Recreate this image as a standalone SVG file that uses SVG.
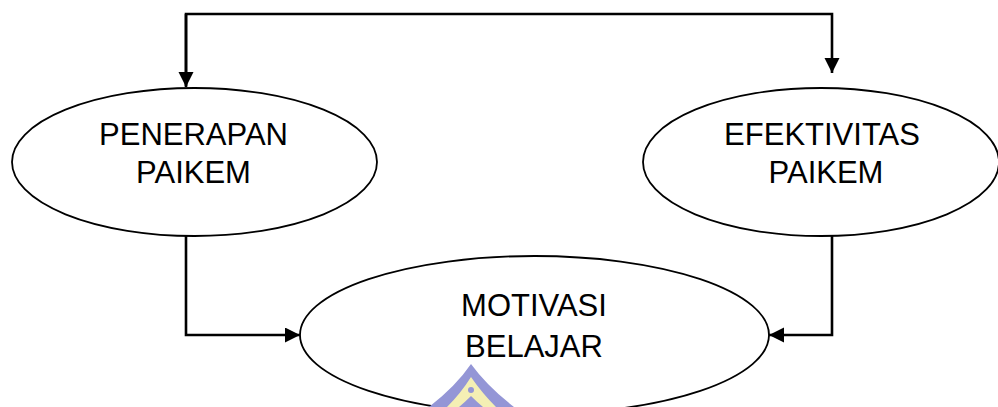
<svg xmlns="http://www.w3.org/2000/svg" width="998" height="407" viewBox="0 0 998 407">
  <style>
    .node ellipse { fill: #ffffff; stroke: #000000; stroke-width: 1.8; }
    .node text { font-family: "Liberation Sans", Arial, sans-serif; font-size: 31px; fill: #000000; text-anchor: middle; }
    .conn { fill: none; stroke: #000000; stroke-width: 2.6; }
  </style>
  <defs>
    <marker id="arrow" markerUnits="userSpaceOnUse" markerWidth="16" markerHeight="16" refX="15" refY="7.5" orient="auto">
      <path d="M0,0 L15,7.5 L0,15 Z" fill="#000000"/>
    </marker>
  </defs>
  <rect width="998" height="407" fill="#ffffff"/>

  <g id="node-penerapan" class="node">
    <ellipse cx="194.5" cy="162" rx="182.5" ry="74"/>
    <text x="193.5" y="145">PENERAPAN</text>
    <text x="193.5" y="183">PAIKEM</text>
  </g>

  <g id="node-efektivitas" class="node">
    <ellipse cx="821" cy="162" rx="178" ry="74"/>
    <text x="822" y="145">EFEKTIVITAS</text>
    <text x="826" y="183">PAIKEM</text>
  </g>

  <g id="node-motivasi" class="node">
    <ellipse cx="534.5" cy="335" rx="234.5" ry="79"/>
    <text x="534" y="316">MOTIVASI</text>
    <text x="534" y="357">BELAJAR</text>
  </g>

  <g id="connectors">
    <path class="conn" d="M186,86 L186,14 L832,14 L832,73" marker-end="url(#arrow)"/>
    <path class="conn" d="M186,14 L186,87" marker-end="url(#arrow)"/>
    <path class="conn" d="M186,236 L186,335 L300,335" marker-end="url(#arrow)"/>
    <path class="conn" d="M832,236 L832,335 L769,335" marker-end="url(#arrow)"/>
  </g>

  <g id="watermark">
    <path d="M471,364 Q456,386 429,407 L514,407 Q487,386 471,364 Z" fill="#9496d6"/>
    <path d="M471,377 Q461,393 447,407 L496,407 Q482,393 471,377 Z" fill="#f4efb4"/>
    <circle cx="471" cy="390" r="3" fill="#9496d6"/>
    <path d="M471,396 Q465,402 459,407 L483,407 Q477,402 471,396 Z" fill="#9496d6"/>
  </g>
</svg>
